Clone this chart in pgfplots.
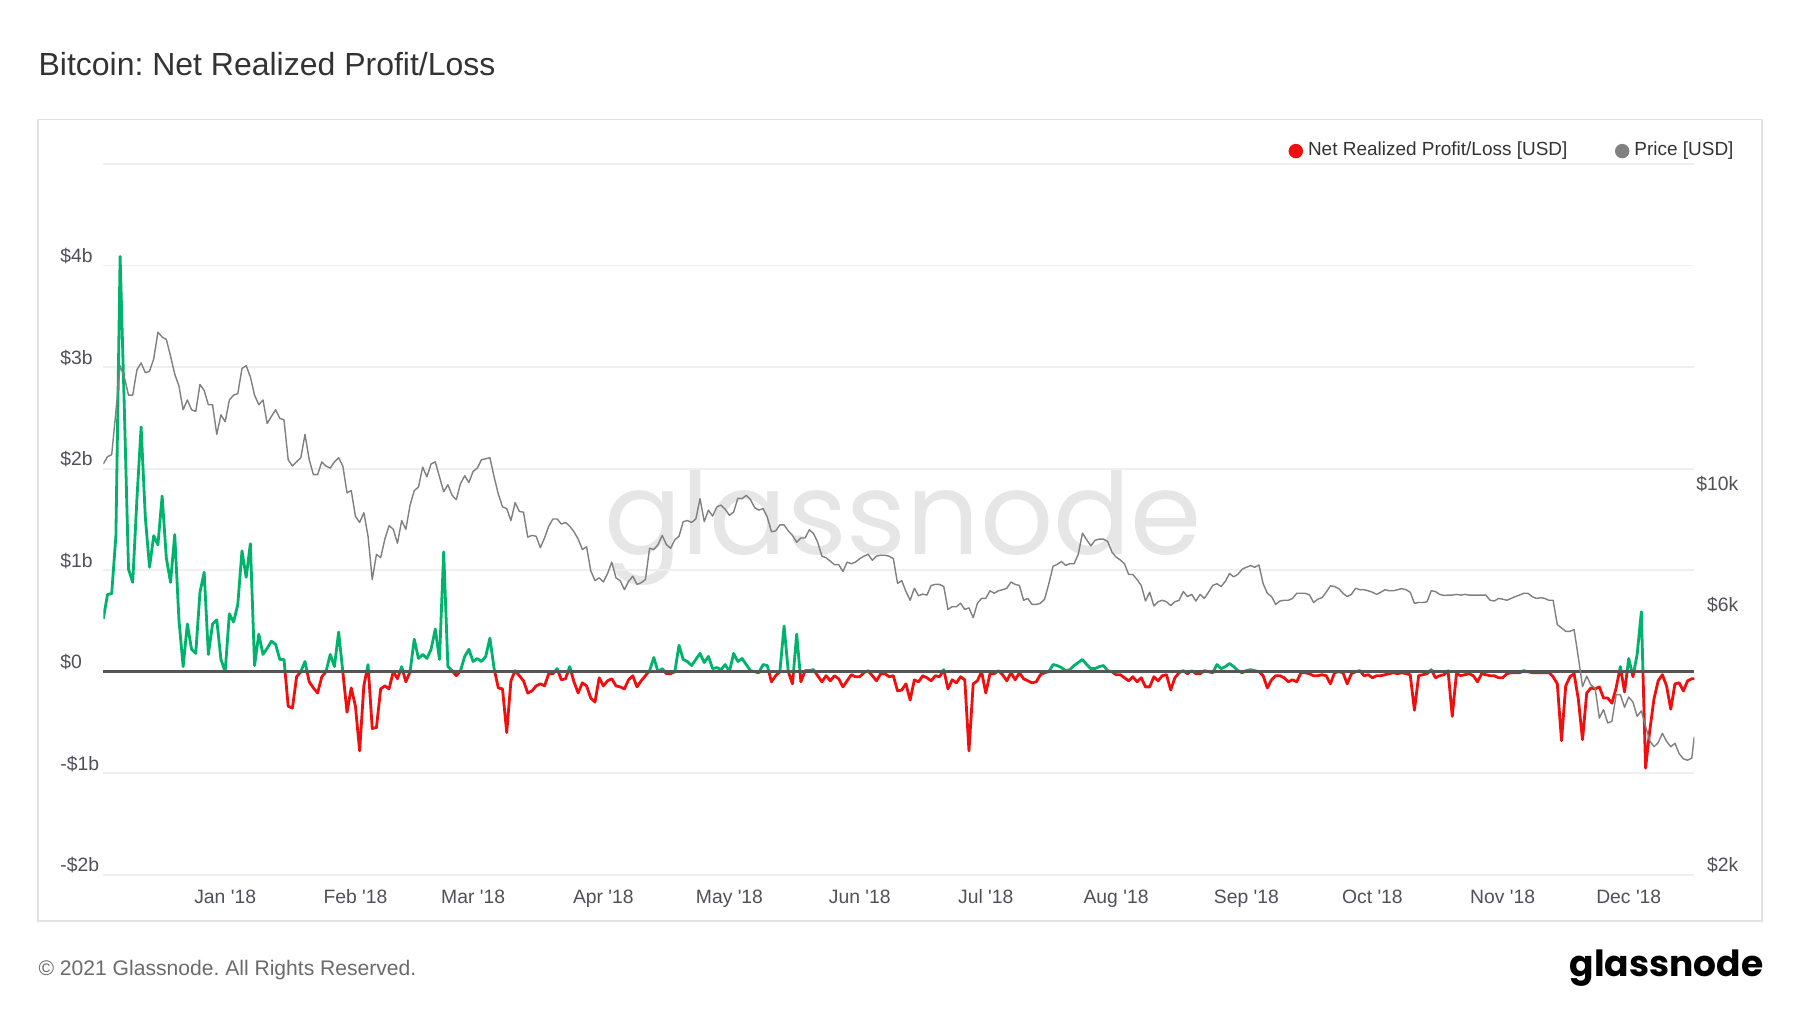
\documentclass[border=0pt]{standalone}
\usepackage{fontspec}
\setmainfont{Liberation Sans}
\newfontfamily\poppins{Poppins}
\usepackage{pgfplots}
\usepackage{pgfplotstable}
\pgfplotsset{compat=1.18}
\frenchspacing

\definecolor{nrplgreen}{HTML}{00B36C}
\definecolor{nrplred}{HTML}{F00F0F}
\definecolor{pricegray}{HTML}{808080}
\definecolor{zerogray}{HTML}{555555}
\definecolor{gridgray}{HTML}{EFEFEF}
\definecolor{framegray}{HTML}{E2E2E2}
\definecolor{ticktext}{HTML}{50505A}
\definecolor{titletext}{HTML}{333333}
\definecolor{foottext}{HTML}{6B6B6B}
\definecolor{wmark}{HTML}{E6E6E6}

% day (0 = 1 Jan 2018), net realized profit/loss [USD bn], price [USD k]
\pgfplotstableread[row sep=\\]{
day nrpl price\\
-29 0.52 11.3\\ -28 0.76 11.65\\ -27 0.77 11.75\\ -26 1.34 14.1\\ -25 4.09 17.1\\
-24 2.6 16.3\\ -23 1.01 15.1\\ -22 0.88 15.1\\ -21 1.7 16.8\\ -20 2.41 17.3\\
-19 1.52 16.6\\ -18 1.03 16.7\\ -17 1.34 17.6\\ -16 1.25 19.7\\ -15 1.73 19.3\\
-14 1.12 19.1\\ -13 0.88 17.8\\ -12 1.35 16.5\\ -11 0.51 15.7\\ -10 0.05 14.2\\
-9 0.47 14.8\\ -8 0.22 14.2\\ -7 0.18 14.1\\ -6 0.78 15.8\\ -5 0.98 15.4\\
-4 0.17 14.5\\ -3 0.47 14.5\\ -2 0.51 12.8\\ -1 0.12 13.9\\ 0 0.0 13.5\\
1 0.57 14.8\\ 2 0.49 15.1\\ 3 0.66 15.2\\ 4 1.19 16.9\\ 5 0.93 17.1\\
6 1.26 16.3\\ 7 0.06 15.1\\ 8 0.37 14.5\\ 9 0.17 14.8\\ 10 0.23 13.4\\
11 0.30 13.8\\ 12 0.27 14.2\\ 13 0.12 13.7\\ 14 0.12 13.6\\ 15 -0.34 11.5\\
16 -0.36 11.2\\ 17 -0.05 11.4\\ 18 0.0 11.6\\ 19 0.1 12.8\\ 20 -0.1 11.5\\
21 -0.16 10.8\\ 22 -0.21 10.8\\ 23 -0.05 11.4\\ 24 0.0 11.2\\ 25 0.17 11.1\\
26 0.05 11.4\\ 27 0.39 11.6\\ 28 0.0 11.2\\ 29 -0.40 10.0\\ 30 -0.16 10.1\\
31 -0.34 9.06\\ 32 -0.78 8.83\\ 33 -0.14 9.2\\ 34 0.07 8.33\\ 35 -0.56 6.94\\
36 -0.55 7.72\\ 37 -0.17 7.61\\ 38 -0.14 8.23\\ 39 -0.17 8.71\\ 40 0.0 8.58\\
41 -0.07 8.09\\ 42 0.05 8.90\\ 43 -0.1 8.58\\ 44 0.0 9.50\\ 45 0.32 10.1\\
46 0.13 10.25\\ 47 0.17 11.15\\ 48 0.13 10.7\\ 49 0.22 11.3\\ 50 0.42 11.4\\
51 0.12 10.7\\ 52 1.18 10.05\\ 53 0.05 10.35\\ 54 0.01 9.9\\ 55 -0.04 9.72\\
56 0.01 10.4\\ 57 0.15 10.75\\ 58 0.22 10.45\\ 59 0.1 10.95\\ 60 0.13 11.1\\
61 0.1 11.5\\ 62 0.15 11.55\\ 63 0.33 11.6\\ 64 0.03 10.7\\ 65 -0.16 9.95\\
66 -0.17 9.43\\ 67 -0.6 9.36\\ 68 -0.09 8.90\\ 69 0.01 9.6\\ 70 -0.04 9.25\\
71 -0.09 9.22\\ 72 -0.21 8.3\\ 73 -0.19 8.36\\ 74 -0.14 8.33\\ 75 -0.12 7.94\\
76 -0.14 8.27\\ 77 -0.02 8.69\\ 78 -0.02 8.96\\ 79 0.03 8.96\\ 80 -0.08 8.77\\
81 -0.07 8.83\\ 82 0.05 8.69\\ 83 -0.1 8.49\\ 84 -0.21 8.23\\ 85 -0.11 7.88\\
86 -0.14 7.97\\ 87 -0.26 7.20\\ 88 -0.3 6.91\\ 89 -0.06 6.99\\ 90 -0.14 6.87\\
91 -0.09 7.12\\ 92 -0.07 7.47\\ 93 -0.14 6.99\\ 94 -0.15 6.91\\ 95 -0.17 6.65\\
96 -0.08 6.89\\ 97 -0.04 7.04\\ 98 -0.15 6.80\\ 99 -0.09 6.85\\ 100 -0.04 6.94\\
101 0.01 7.92\\ 102 0.14 7.88\\ 103 0.0 8.04\\ 104 0.03 8.36\\ 105 -0.02 8.04\\
106 -0.02 7.92\\ 107 0.0 8.21\\ 108 0.26 8.33\\ 109 0.12 8.86\\ 110 0.1 8.90\\
111 0.06 8.83\\ 112 0.12 8.96\\ 113 0.18 9.76\\ 114 0.09 8.86\\ 115 0.15 9.30\\
116 0.03 9.07\\ 117 0.04 9.43\\ 118 0.02 9.50\\ 119 0.07 9.33\\ 120 0.0 9.10\\
121 0.18 9.23\\ 122 0.1 9.78\\ 123 0.13 9.76\\ 124 0.07 9.90\\ 125 0.01 9.72\\
126 0.0 9.40\\ 127 -0.01 9.30\\ 128 0.07 9.36\\ 129 0.06 9.03\\ 130 -0.1 8.49\\
131 -0.04 8.52\\ 132 0.0 8.74\\ 133 0.45 8.74\\ 134 0.0 8.52\\ 135 -0.12 8.36\\
136 0.37 8.12\\ 137 -0.1 8.27\\ 138 0.01 8.27\\ 139 0.01 8.56\\ 140 0.02 8.43\\
141 -0.04 8.12\\ 142 -0.1 7.66\\ 143 -0.04 7.61\\ 144 -0.09 7.50\\ 145 -0.04 7.39\\
146 -0.07 7.39\\ 147 -0.15 7.18\\ 148 -0.09 7.47\\ 149 -0.03 7.42\\ 150 -0.05 7.47\\
151 -0.05 7.58\\ 152 -0.01 7.66\\ 153 0.01 7.72\\ 154 -0.04 7.53\\ 155 -0.09 7.66\\
156 -0.02 7.69\\ 157 -0.02 7.69\\ 158 -0.05 7.66\\ 159 -0.04 7.58\\ 160 -0.19 6.83\\
161 -0.18 6.91\\ 162 -0.12 6.60\\ 163 -0.28 6.36\\ 164 -0.08 6.69\\ 165 -0.1 6.48\\
166 -0.04 6.53\\ 167 -0.06 6.50\\ 168 -0.09 6.77\\ 169 -0.04 6.80\\ 170 -0.05 6.80\\
171 0.02 6.74\\ 172 -0.17 6.12\\ 173 -0.08 6.19\\ 174 -0.11 6.19\\ 175 -0.05 6.28\\
176 -0.08 6.12\\ 177 -0.78 6.16\\ 178 -0.12 5.91\\ 179 -0.09 6.28\\ 180 0.0 6.41\\
181 -0.21 6.41\\ 182 -0.02 6.62\\ 183 -0.02 6.55\\ 184 0.01 6.62\\ 185 -0.03 6.65\\
186 -0.09 6.69\\ 187 -0.01 6.87\\ 188 -0.08 6.80\\ 189 -0.01 6.77\\ 190 -0.07 6.36\\
191 -0.09 6.41\\ 192 -0.11 6.25\\ 193 -0.1 6.25\\ 194 -0.03 6.28\\ 195 -0.01 6.39\\
196 0.0 6.82\\ 197 0.07 7.34\\ 198 0.06 7.40\\ 199 0.04 7.49\\ 200 0.01 7.37\\
201 0.02 7.42\\ 202 0.06 7.42\\ 203 0.09 7.72\\ 204 0.12 8.44\\ 205 0.07 8.21\\
206 0.03 8.00\\ 207 0.03 8.19\\ 208 0.05 8.23\\ 209 0.06 8.23\\ 210 0.01 8.15\\
211 0.0 7.80\\ 212 -0.03 7.63\\ 213 -0.03 7.54\\ 214 -0.06 7.42\\ 215 -0.09 7.09\\
216 -0.05 7.09\\ 217 -0.1 6.94\\ 218 -0.06 6.77\\ 219 -0.15 6.34\\ 220 -0.15 6.58\\
221 -0.05 6.21\\ 222 -0.09 6.32\\ 223 -0.04 6.36\\ 224 -0.03 6.32\\ 225 -0.18 6.22\\
226 -0.06 6.32\\ 227 -0.01 6.36\\ 228 0.01 6.60\\ 229 -0.02 6.46\\ 230 0.01 6.52\\
231 -0.02 6.34\\ 232 -0.02 6.52\\ 233 0.01 6.41\\ 234 0.0 6.58\\ 235 -0.01 6.77\\
236 0.07 6.82\\ 237 0.03 6.74\\ 238 0.05 6.89\\ 239 0.08 7.12\\ 240 0.05 7.02\\
241 0.01 7.10\\ 242 -0.01 7.25\\ 243 0.01 7.31\\ 244 0.02 7.36\\ 245 0.01 7.31\\
246 0.0 7.38\\ 247 -0.04 6.82\\ 248 -0.16 6.55\\ 249 -0.08 6.46\\ 250 -0.04 6.25\\
251 -0.04 6.34\\ 252 -0.06 6.36\\ 253 -0.1 6.36\\ 254 -0.08 6.41\\ 255 -0.1 6.55\\
256 -0.01 6.55\\ 257 -0.01 6.55\\ 258 -0.02 6.51\\ 259 -0.04 6.30\\ 260 -0.04 6.39\\
261 -0.03 6.43\\ 262 -0.04 6.58\\ 263 -0.12 6.76\\ 264 -0.01 6.74\\ 265 0.0 6.68\\
266 -0.01 6.55\\ 267 -0.12 6.46\\ 268 -0.02 6.52\\ 269 0.0 6.69\\ 270 0.01 6.65\\
271 -0.04 6.65\\ 272 -0.03 6.62\\ 273 -0.06 6.58\\ 274 -0.04 6.52\\ 275 -0.04 6.58\\
276 -0.03 6.65\\ 277 -0.02 6.62\\ 278 -0.01 6.62\\ 279 -0.02 6.65\\ 280 -0.01 6.68\\
281 -0.02 6.65\\ 282 -0.03 6.58\\ 283 -0.38 6.28\\ 284 -0.04 6.30\\ 285 -0.03 6.30\\
286 -0.02 6.32\\ 287 0.02 6.62\\ 288 -0.06 6.60\\ 289 -0.04 6.52\\ 290 -0.03 6.49\\
291 0.01 6.50\\ 292 -0.44 6.50\\ 293 -0.02 6.52\\ 294 -0.04 6.50\\ 295 -0.03 6.52\\
296 -0.02 6.50\\ 297 -0.04 6.50\\ 298 -0.1 6.50\\ 299 -0.02 6.50\\ 300 -0.03 6.50\\
301 -0.04 6.36\\ 302 -0.04 6.34\\ 303 -0.06 6.41\\ 304 -0.06 6.39\\ 305 -0.02 6.36\\
306 -0.01 6.41\\ 307 -0.01 6.46\\ 308 -0.01 6.50\\ 309 0.01 6.55\\ 310 0.0 6.55\\
311 -0.01 6.46\\ 312 -0.01 6.41\\ 313 -0.01 6.43\\ 314 -0.01 6.41\\ 315 -0.01 6.36\\
316 -0.05 6.36\\ 317 -0.12 5.74\\ 318 -0.68 5.66\\ 319 -0.14 5.58\\ 320 -0.05 5.58\\
321 -0.02 5.62\\ 322 -0.27 5.00\\ 323 -0.67 4.42\\ 324 -0.21 4.62\\ 325 -0.16 4.45\\
326 -0.17 4.39\\ 327 -0.15 3.87\\ 328 -0.26 4.01\\ 329 -0.26 3.79\\ 330 -0.31 3.82\\
331 -0.16 4.27\\ 332 0.05 4.27\\ 333 -0.2 4.05\\ 334 0.13 4.23\\ 335 -0.05 4.14\\
336 0.17 3.90\\ 337 0.59 3.99\\ 338 -0.95 3.74\\ 339 -0.58 3.52\\ 340 -0.27 3.43\\
341 -0.09 3.49\\ 342 -0.03 3.63\\ 343 -0.14 3.51\\ 344 -0.37 3.43\\ 345 -0.12 3.48\\
346 -0.11 3.33\\ 347 -0.19 3.26\\ 348 -0.09 3.24\\ 349 -0.07 3.27\\ 349.6 -0.07 3.58\\
}\btcdata

\pgfplotsset{
  common/.style={scale only axis, width=159.1mm, xmin=-29, xmax=349.6},
  half/.style={common, anchor=south west, hide axis},
}

\begin{document}
\begin{tikzpicture}
% page and chart frame
\fill[white] (0mm,0mm) rectangle (180mm,101.25mm);
\draw[framegray, line width=0.5pt] (3.79mm,9.18mm) rectangle (176.2mm,89.3mm);
% watermark
\node[anchor=base, inner sep=0pt, text=wmark, font=\poppins\fontsize{32.6}{34}\selectfont]
  at (90.3mm,45.8mm) {glassnode};
% title and footer
\node[anchor=base west, inner sep=0pt, text=titletext, font=\fontsize{9.1}{11}\selectfont]
  at (3.79mm,93.68mm) {Bitcoin: Net Realized Profit/Loss};
\node[anchor=base west, inner sep=0pt, text=foottext, font=\fontsize{6}{7}\selectfont]
  at (3.79mm,3.67mm) {© 2021 Glassnode. All Rights Reserved.};
\node[anchor=base east, inner sep=0pt, text=black, font=\poppins\bfseries\fontsize{10.25}{12}\selectfont]
  at (176.4mm,3.61mm) {glassnode};

% left axis: grid, ticks, legend
\begin{axis}[
    common,
    at={(10.33mm,13.78mm)}, anchor=south west,
    height=71.06mm,
    ymin=-2, ymax=5,
    axis line style={draw=none},
    major tick length=0pt,
    xtick={0,31,59,90,120,151,181,212,243,273,304,334},
    xticklabels={Jan \textquotesingle18,Feb \textquotesingle18,Mar \textquotesingle18,Apr \textquotesingle18,May \textquotesingle18,Jun \textquotesingle18,Jul \textquotesingle18,Aug \textquotesingle18,Sep \textquotesingle18,Oct \textquotesingle18,Nov \textquotesingle18,Dec \textquotesingle18},
    ytick={-2,-1,0,1,2,3,4,5},
    yticklabels={-\$2b,-\$1b,\$0,\$1b,\$2b,\$3b,\$4b,{}},
    ymajorgrids=true,
    grid style={gridgray, line width=0.5pt},
    tick label style={font=\fontsize{5.5}{6}\selectfont, text=ticktext},
    yticklabel style={anchor=west, inner sep=0pt, xshift=-4.36mm, yshift=0.92mm},
    xticklabel style={anchor=base, inner sep=0pt, yshift=-2.86mm},
    legend columns=2,
    legend image code/.code={\fill[#1] (0mm,0mm) circle (0.65mm);},
    legend style={at={(1.0251,1.0183)}, anchor=east, draw=none, fill=none,
        inner sep=0pt, font=\fontsize{5.4}{6}\selectfont,
        nodes={inner sep=0pt, text=titletext},
        column sep=0.5mm,
        /tikz/every even column/.append style={column sep=4.75mm}},
]
\addlegendimage{nrplred}
\addlegendentry{Net Realized Profit/Loss [USD]}
\addlegendimage{pricegray}
\addlegendentry{Price [USD]}
\end{axis}

% profit part, clipped above zero
\begin{axis}[half, at={(10.33mm,34.083mm)}, height=50.757mm, ymin=0, ymax=5]
\addplot[nrplgreen, line width=0.8pt, line join=round] table[x=day, y=nrpl] {\btcdata};
\end{axis}

% loss part, clipped below zero
\begin{axis}[half, at={(10.33mm,13.78mm)}, height=20.303mm, ymin=-2, ymax=0]
\addplot[nrplred, line width=0.8pt, line join=round] table[x=day, y=nrpl] {\btcdata};
\end{axis}

% zero line on top of the profit/loss line
\begin{axis}[half, at={(10.33mm,13.78mm)}, height=71.06mm, ymin=-2, ymax=5, clip=false]
\addplot[zerogray, line width=0.75pt] coordinates {(-29,0) (349.6,0)};
\end{axis}

% price, right log axis
\begin{axis}[
    common,
    at={(10.33mm,13.78mm)}, anchor=south west,
    height=71.06mm,
    ymode=log, ymin=2, ymax=40,
    axis line style={draw=none},
    major tick length=0pt,
    xtick=\empty,
    ytick={2,6,10},
    yticklabels={\$2k,\$6k,\$10k},
    yticklabel pos=right,
    tick label style={font=\fontsize{5.5}{6}\selectfont, text=ticktext},
    yticklabel style={anchor=east, inner sep=0pt, xshift=4.48mm, yshift=0.92mm},
]
\addplot[pricegray, line width=0.4pt, line join=round] table[x=day, y=price] {\btcdata};
\end{axis}
\end{tikzpicture}
\end{document}
